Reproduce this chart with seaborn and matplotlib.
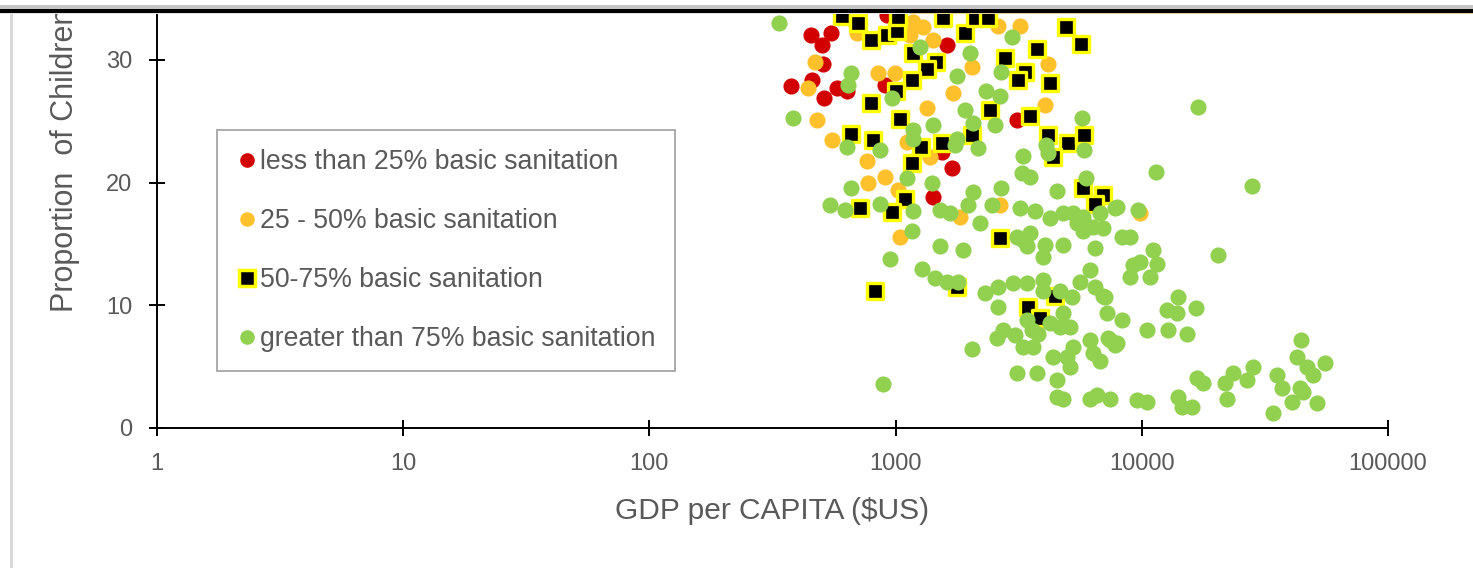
import matplotlib
matplotlib.use("Agg")
import matplotlib.pyplot as plt
from matplotlib.lines import Line2D
from matplotlib.patches import Rectangle
from matplotlib.ticker import FixedLocator, FixedFormatter, NullLocator
import seaborn as sns
import pandas as pd

# ---- data: GDP per capita ($US) vs proportion of children stunted, by sanitation access ----
red_gdp = [452, 545, 502, 508, 457, 375, 512, 576, 633, 906, 1617, 3104, 1690, 1419, 1538, 653, 923]
red_val = [32.0, 32.2, 31.2, 29.7, 28.4, 27.9, 26.9, 27.7, 27.5, 28.0, 31.2, 25.1, 21.2, 18.8, 22.5, 33.4, 33.7]

orange_gdp = [471, 441, 480, 552, 765, 773, 906, 848, 995, 1342, 1710, 2044, 1177, 1292, 1419, 1144,
              2606, 3201, 4157, 4045, 1380, 697, 1112, 1023, 2655, 1827, 1042, 9840]
orange_val = [29.8, 27.7, 25.1, 23.5, 21.8, 20.0, 20.5, 28.9, 28.9, 26.1, 27.3, 29.4, 33.1, 32.7, 31.6, 32.0,
              32.8, 32.8, 29.7, 26.3, 22.1, 32.2, 23.3, 19.4, 18.2, 17.2, 15.6, 17.5]

square_gdp = [606, 703, 794, 923, 1013, 1023, 1559, 1914, 2100, 2372,
              1177, 1459, 1342, 1166, 1004, 794, 1042, 659, 809, 1268,
              1543, 2044, 1166, 1092, 717, 967, 2417, 4921, 5663, 2782,
              3753, 3355, 3141, 4238, 3515, 4157, 5014, 5823, 4357, 5768,
              6955, 6456, 2655, 825, 1775, 3450, 3858, 4440]
square_val = [33.6, 33.0, 31.6, 32.0, 32.4, 33.5, 33.4, 32.2, 33.4, 33.4,
              30.6, 29.8, 29.3, 28.4, 27.5, 26.5, 25.2, 24.0, 23.5, 22.9,
              23.2, 23.9, 21.6, 18.7, 17.9, 17.6, 25.9, 32.7, 31.3, 30.2,
              30.9, 29.0, 28.4, 28.1, 25.4, 23.9, 23.2, 23.9, 22.1, 19.6,
              19.0, 18.3, 15.5, 11.2, 11.5, 9.9, 9.0, 10.8]

green_gdp = [336, 659, 641, 383, 635, 864, 967, 1256, 1775, 2005, 2329, 2655, 1914, 2062, 1177, 1177,
             1419, 1775, 1743, 2161, 1112, 1405, 659, 541, 623, 864, 2062, 2971, 2680, 2534, 5716, 4082,
             4159, 3292, 5824, 3262, 3515, 2680, 4524, 5933, 11420, 16920, 28030, 7930, 9651, 3201, 3684,
             1177, 1514, 1664, 1968, 2464, 1166, 2202, 4238, 4786, 5254, 5770, 6765, 7783, 3112, 3292,
             3515, 3417, 4044, 3969, 4786, 5455, 5770, 6336, 6957, 6455, 8312, 8954, 1514, 1878, 949,
             1280, 1445, 1617, 1792, 2307, 2606, 2999, 3417, 3969, 3969, 4653, 5205, 5610, 6161, 6455,
             6957, 7222, 8312, 10500, 2606, 2731, 2581, 3055, 3417, 3292, 3614, 3581, 3787, 4238, 4653,
             5109, 4786, 6161, 5254, 7427, 7930, 4358, 4968, 5109, 6336, 6765, 2043, 3112, 3752, 4524,
             4524, 4786, 6161, 6577, 7427, 9561, 10500, 889, 20390, 11100, 11530, 9210, 9833, 8954,
             10800, 7088, 14030, 12660, 13900, 16600, 12780, 15260, 7290, 7783, 14030, 14570, 15990,
             16760, 17730, 21770, 23470, 26750, 28290, 22190, 34120, 35410, 37100, 40760, 42700, 44330,
             43920, 46880, 49590, 51460, 55470, 45160]
green_val = [33.0, 28.9, 28.0, 25.3, 22.9, 22.7, 26.9, 31.1, 28.7, 30.6, 27.5, 27.1, 25.9, 24.9, 24.3, 23.6,
             24.7, 23.6, 23.1, 22.8, 20.4, 20.0, 19.6, 18.2, 17.8, 18.3, 19.2, 31.9, 29.0, 24.7, 25.3, 23.1,
             22.4, 22.2, 22.7, 20.8, 20.5, 19.6, 19.3, 20.4, 20.9, 26.2, 19.7, 18.0, 17.8, 17.9, 17.7,
             17.7, 17.8, 17.5, 18.2, 18.2, 16.1, 16.7, 17.1, 17.5, 17.5, 17.2, 17.5, 17.9, 15.6, 15.3,
             15.9, 14.8, 14.9, 13.9, 14.9, 16.7, 16.1, 16.4, 16.3, 14.7, 15.6, 15.6, 14.8, 14.5, 13.8,
             13.0, 12.2, 11.9, 11.9, 11.0, 11.5, 11.8, 11.8, 12.1, 11.2, 11.2, 10.7, 11.9, 12.9, 11.5,
             10.8, 9.4, 8.8, 8.0, 9.9, 8.0, 7.3, 7.6, 8.8, 6.6, 6.6, 8.0, 7.7, 8.6, 8.2,
             8.2, 9.4, 7.2, 6.6, 7.2, 6.9, 5.8, 5.8, 5.0, 6.1, 5.5, 6.4, 4.5, 4.5, 3.9,
             2.5, 2.4, 2.4, 2.7, 2.4, 2.3, 2.1, 3.6, 14.1, 14.5, 13.4, 13.3, 13.5, 12.3,
             12.3, 10.7, 10.7, 9.6, 9.4, 9.8, 8.0, 7.7, 7.3, 6.8, 2.5, 1.7, 1.7,
             4.1, 3.7, 3.7, 4.5, 3.9, 5.0, 2.4, 1.2, 4.3, 3.3, 2.1, 5.8, 7.2,
             3.3, 5.0, 4.3, 2.0, 5.3, 2.9]

labels = ["less than 25% basic sanitation", "25 - 50% basic sanitation",
          "50-75% basic sanitation", "greater than 75% basic sanitation"]
x_ticks = [1, 10, 100, 1000, 10000, 100000]
x_tick_labels = ["1", "10", "100", "1000", "10000", "100000"]
y_ticks = [0, 10, 20, 30]

# ---- styling ----
RED, ORANGE, GREEN, YELLOW = "#d20000", "#ffc12b", "#92d050", "#ffff00"
TEXT = "#595959"

df = pd.concat([
    pd.DataFrame({"gdp": red_gdp, "stunting": red_val, "group": labels[0]}),
    pd.DataFrame({"gdp": orange_gdp, "stunting": orange_val, "group": labels[1]}),
    pd.DataFrame({"gdp": square_gdp, "stunting": square_val, "group": labels[2]}),
    pd.DataFrame({"gdp": green_gdp, "stunting": green_val, "group": labels[3]}),
], ignore_index=True)

marker_style = {
    labels[0]: dict(marker="o", s=135, color=RED, edgecolor=RED, linewidth=0),
    labels[1]: dict(marker="o", s=135, color=ORANGE, edgecolor=ORANGE, linewidth=0),
    labels[2]: dict(marker="s", s=122, color="black", edgecolor=YELLOW, linewidth=2.4),
    labels[3]: dict(marker="o", s=135, color=GREEN, edgecolor=GREEN, linewidth=0),
}

sns.set_theme(style="white")
plt.rcParams["font.family"] = ["Liberation Sans", "DejaVu Sans"]

W, H = 1473, 568
fig = plt.figure(figsize=(W / 100, H / 100), dpi=100)
fig.patch.set_facecolor("white")
ax = fig.add_axes([157 / W, 1 - 428 / H, (1388 - 157) / W, (428 - 14) / H])

for i, lab in enumerate(labels):
    sub = df[df["group"] == lab]
    sns.scatterplot(data=sub, x="gdp", y="stunting", ax=ax, legend=False,
                    zorder=3 + i, **marker_style[lab])

ax.set_xscale("log")
ax.set_xlim(1, 100000)
ax.set_ylim(0, 33.75)
ax.xaxis.set_major_locator(FixedLocator(x_ticks))
ax.xaxis.set_major_formatter(FixedFormatter(x_tick_labels))
ax.xaxis.set_minor_locator(NullLocator())
ax.set_yticks(y_ticks)

for side in ("top", "right"):
    ax.spines[side].set_visible(False)
for side in ("left", "bottom"):
    ax.spines[side].set_color("black")
    ax.spines[side].set_linewidth(1.4)

ax.tick_params(axis="both", which="major", direction="inout", length=12, width=1.4,
               color="black", labelsize=17, labelcolor=TEXT, pad=12,
               bottom=True, left=True)

ax.set_xlabel("GDP per CAPITA ($US)", fontsize=21.5, color=TEXT)
ax.xaxis.set_label_coords(0.5, (428 - 497) / 414)
ax.set_ylabel("")

ylab = fig.text(65 / W, 1 - 312 / H, "Proportion  of Children", rotation=90,
                ha="center", va="bottom", fontsize=22, color=TEXT)
clip = Rectangle((0, 0), 1, 1 - 14 / H, transform=fig.transFigure, visible=False)
fig.add_artist(clip)
ylab.set_clip_path(clip)

handles = [
    Line2D([], [], linestyle="none", marker="o", markersize=10.5, markerfacecolor=RED,
           markeredgewidth=0),
    Line2D([], [], linestyle="none", marker="o", markersize=10.5, markerfacecolor=ORANGE,
           markeredgewidth=0),
    Line2D([], [], linestyle="none", marker="s", markersize=11, markerfacecolor="black",
           markeredgecolor=YELLOW, markeredgewidth=2.5),
    Line2D([], [], linestyle="none", marker="o", markersize=10.5, markerfacecolor=GREEN,
           markeredgewidth=0),
]
leg = ax.legend(handles, labels, loc="upper left",
                bbox_to_anchor=((217 - 157) / 1231, (428 - 130) / 414),
                borderaxespad=0, frameon=True, fancybox=False, framealpha=1,
                edgecolor="#a6a6a6", fontsize=19.2, labelcolor=TEXT,
                handlelength=0.86, handletextpad=0.05, borderpad=0.71,
                labelspacing=1.24)
leg.get_frame().set_linewidth(1.3)


def band(x0, x1, y0, y1, color):
    fig.add_artist(Rectangle((x0 / W, 1 - y1 / H), (x1 - x0) / W, (y1 - y0) / H,
                             transform=fig.transFigure, facecolor=color,
                             edgecolor="none", zorder=20))


# window frame around the chart
band(0, W, 0, 5.5, "white")
band(0, W, 5.5, 8.8, "#c6c6c6")
band(0, W, 8.8, 12.6, "black")
band(0, 910, 12.6, 14.3, "#e4e4e4")
band(910, W, 12.6, 14.3, "#e3d58f")
band(10, 12.5, 14.3, H, "#d9d9d9")

fig.savefig("out.png", dpi=100, facecolor="white")
